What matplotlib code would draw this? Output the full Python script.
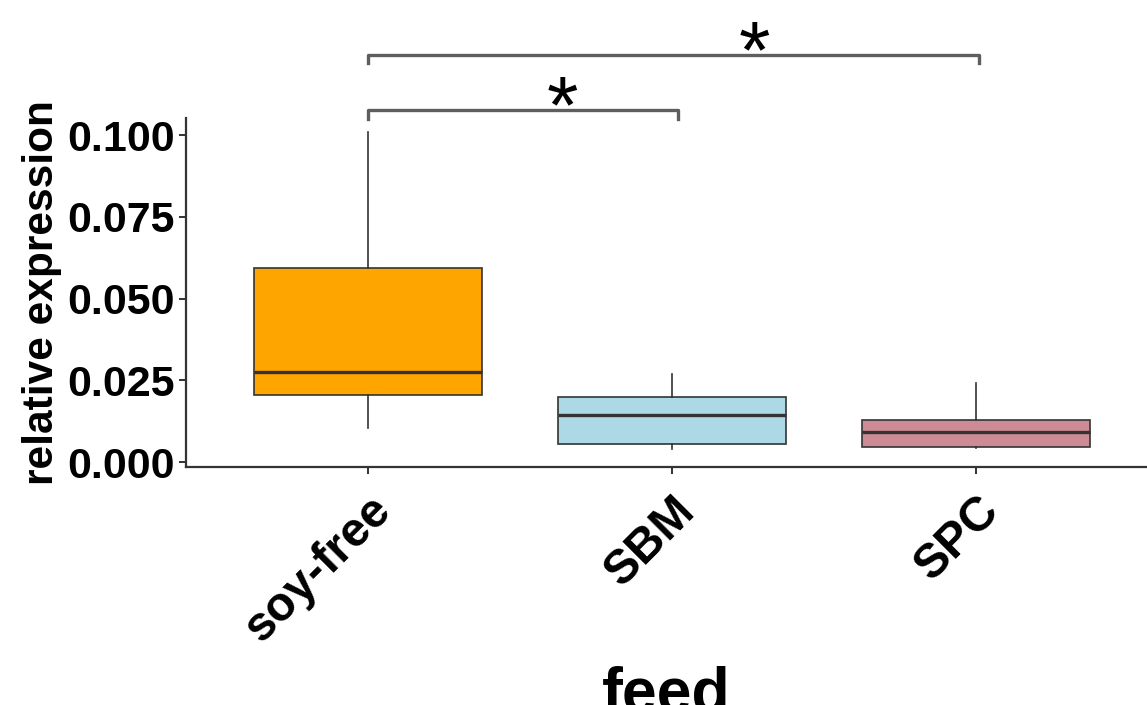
import numpy as np
import matplotlib
matplotlib.use("Agg")
import matplotlib.pyplot as plt

# box statistics
feeds = ["soy-free", "SBM", "SPC"]
whis_lo = [0.0104, 0.0040, 0.0043]
q1 = [0.0205, 0.0055, 0.0046]
median = [0.0275, 0.0144, 0.0092]
q3 = [0.0593, 0.0199, 0.0128]
whis_hi = [0.1010, 0.0269, 0.0242]
colors = ["#FFA500", "#ADD8E6", "#CD8C95"]

# significance brackets: (x start, x end, height, star x)
brackets = [(1, 2.02, 0.1076, 1.64), (1, 3.01, 0.1245, 2.27)]

plt.rcParams["font.family"] = ["Liberation Sans", "DejaVu Sans"]
plt.rcParams["font.weight"] = "bold"

fig = plt.figure(figsize=(11.47, 7.05), dpi=100)
ax = fig.add_axes([186 / 1147, 1 - 467 / 705, 961 / 1147, (467 - 118) / 705])

stats = []
for i in range(len(feeds)):
    stats.append(dict(whislo=whis_lo[i], q1=q1[i], med=median[i], q3=q3[i],
                      whishi=whis_hi[i], fliers=[], label=feeds[i]))

pos = np.arange(1, len(feeds) + 1)
bp = ax.bxp(stats, positions=pos, widths=0.75, patch_artist=True,
            showcaps=False,
            boxprops=dict(edgecolor="#333333", linewidth=1.2),
            whiskerprops=dict(color="#333333", linewidth=1.2),
            medianprops=dict(color="#333333", linewidth=2.4))
for patch, c in zip(bp["boxes"], colors):
    patch.set_facecolor(c)

ax.set_xlim(0.4, 3.5625)
ax.set_ylim(-0.0015, 0.1052)
ax.set_yticks([0, 0.025, 0.05, 0.075, 0.1])
ax.set_yticklabels(["0.000", "0.025", "0.050", "0.075", "0.100"], fontsize=31, fontweight="bold")
ax.set_xticks(pos)
ax.set_xticklabels(feeds, fontsize=34.5, fontweight="bold", rotation=45,
                   ha="right", va="top", rotation_mode="anchor")

for s in ["top", "right"]:
    ax.spines[s].set_visible(False)
for s in ["left", "bottom"]:
    ax.spines[s].set_color("#333333")
    ax.spines[s].set_linewidth(1.6)
ax.tick_params(axis="both", color="#333333", width=1.4, length=5, pad=3)
ax.tick_params(axis="x", pad=10)

ax.set_ylabel("relative expression", fontsize=30.5, fontweight="bold", labelpad=4)
ax.set_xlabel("feed", fontsize=45, fontweight="bold")
ax.xaxis.set_label_coords(0.5, -0.57)

for x0, x1, h, sx in brackets:
    ax.plot([x0, x0, x1, x1], [h - 0.0026, h, h, h - 0.0026], color="#5e5e5e",
            linewidth=2.4, clip_on=False, solid_joinstyle="round")
    ax.text(sx, h - 0.0068, "*", fontsize=58, fontweight="normal", ha="center",
            va="baseline", color="black", clip_on=False)

fig.savefig("out.png", dpi=100)
